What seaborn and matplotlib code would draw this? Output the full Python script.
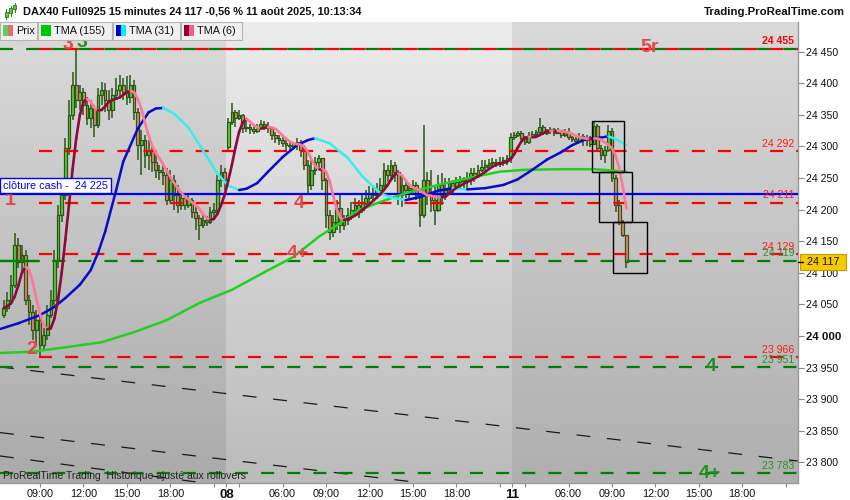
import numpy as np
import pandas as pd
import matplotlib
matplotlib.use("Agg")
import matplotlib.pyplot as plt
import seaborn as sns
from matplotlib.colors import LinearSegmentedColormap
from matplotlib.patches import Rectangle
from matplotlib.collections import LineCollection

# ---------------- data (15-minute bars) ----------------
open_ = [
    # Aug 7 (06:30 .. 21:45)
    24033, 24044, 24057, 24081, 24144, 24117, 24128, 24057, 24038, 24009,
    24025, 23986, 24002, 24033, 24057, 24120, 24192, 24223, 24298, 24350,
    24397, 24374, 24386, 24366, 24345, 24361, 24334, 24381, 24389, 24374,
    24358, 24381, 24389, 24397, 24386, 24378, 24397, 24355, 24302, 24310,
    24286, 24294, 24275, 24263, 24260, 24255, 24215, 24247, 24223, 24207,
    24218, 24207, 24215, 24196, 24187, 24176, 24184, 24180, 24196, 24199,
    24247, 24260,
    # Aug 8 (02:15 .. 21:45)
    24299, 24339, 24355, 24345, 24350, 24329, 24331, 24328, 24324, 24329,
    24336, 24332, 24329, 24318, 24313, 24310, 24305, 24302, 24301, 24304,
    24307, 24294, 24271, 24239, 24263, 24275, 24282, 24247, 24191, 24164,
    24180, 24203, 24176, 24184, 24192, 24199, 24207, 24199, 24210, 24218,
    24226, 24223, 24231, 24239, 24263, 24255, 24271, 24260, 24223, 24239,
    24231, 24234, 24239, 24223, 24192, 24247, 24223, 24215, 24199, 24239,
    24223, 24231, 24242, 24234, 24244, 24247, 24245, 24250, 24258, 24253,
    24263, 24267, 24271, 24274, 24275, 24272, 24275, 24279, 24282,
    # Aug 11 (02:15 .. 10:00)
    24315, 24318, 24321, 24313, 24307, 24317, 24320, 24323, 24331, 24321,
    24324, 24328, 24321, 24326, 24318, 24323, 24315, 24312, 24309, 24317,
    24310, 24313, 24304, 24332, 24298, 24286, 24294, 24324, 24250, 24207,
    24180, 24160,
]
high = [
    24057, 24069, 24096, 24163, 24155, 24144, 24136, 24065, 24049, 24041,
    24033, 24013, 24049, 24073, 24136, 24207, 24234, 24313, 24374, 24418,
    24453, 24397, 24392, 24378, 24374, 24366, 24392, 24402, 24400, 24389,
    24392, 24408, 24413, 24408, 24411, 24413, 24405, 24361, 24326, 24318,
    24310, 24302, 24286, 24271, 24271, 24266, 24263, 24255, 24239, 24228,
    24223, 24226, 24218, 24204, 24191, 24191, 24190, 24204, 24210, 24255,
    24271, 24266,
    24345, 24369, 24358, 24358, 24351, 24342, 24336, 24332, 24336, 24342,
    24340, 24339, 24329, 24323, 24318, 24315, 24310, 24307, 24307, 24313,
    24310, 24298, 24279, 24279, 24283, 24286, 24282, 24250, 24199, 24191,
    24215, 24223, 24191, 24202, 24212, 24218, 24215, 24223, 24231, 24237,
    24239, 24242, 24250, 24274, 24271, 24279, 24275, 24263, 24255, 24247,
    24242, 24247, 24244, 24226, 24334, 24260, 24263, 24236, 24255, 24258,
    24250, 24250, 24247, 24252, 24253, 24252, 24260, 24266, 24266, 24271,
    24279, 24279, 24280, 24282, 24280, 24283, 24283, 24286, 24321,
    24323, 24324, 24324, 24317, 24323, 24324, 24326, 24345, 24334, 24328,
    24331, 24329, 24329, 24326, 24328, 24329, 24317, 24315, 24321, 24320,
    24318, 24317, 24339, 24336, 24302, 24301, 24334, 24329, 24255, 24215,
    24183, 24160,
]
low = [
    24028, 24038, 24052, 24076, 24108, 24101, 24049, 24017, 23994, 23986,
    23967, 23978, 23994, 24028, 24049, 24108, 24180, 24215, 24286, 24342,
    24361, 24358, 24350, 24334, 24329, 24315, 24329, 24366, 24355, 24342,
    24345, 24374, 24377, 24374, 24366, 24369, 24342, 24279, 24255, 24266,
    24263, 24260, 24250, 24247, 24239, 24207, 24212, 24199, 24195, 24199,
    24199, 24202, 24187, 24168, 24152, 24171, 24174, 24177, 24187, 24195,
    24236, 24231,
    24294, 24334, 24331, 24342, 24321, 24323, 24320, 24320, 24321, 24326,
    24326, 24321, 24310, 24305, 24302, 24299, 24294, 24294, 24294, 24294,
    24283, 24263, 24223, 24231, 24255, 24266, 24231, 24171, 24152, 24157,
    24168, 24163, 24168, 24176, 24184, 24192, 24187, 24195, 24207, 24210,
    24212, 24218, 24223, 24234, 24244, 24247, 24244, 24207, 24204, 24218,
    24218, 24223, 24215, 24172, 24187, 24207, 24196, 24176, 24196, 24207,
    24215, 24223, 24223, 24231, 24231, 24234, 24231, 24239, 24244, 24250,
    24260, 24263, 24266, 24267, 24267, 24267, 24269, 24271, 24274,
    24310, 24315, 24310, 24302, 24304, 24315, 24317, 24318, 24318, 24318,
    24320, 24317, 24320, 24313, 24315, 24310, 24307, 24305, 24307, 24301,
    24301, 24299, 24302, 24291, 24279, 24274, 24291, 24244, 24196, 24176,
    24157, 24108,
]
close = [
    24044, 24057, 24081, 24144, 24117, 24128, 24057, 24038, 24009, 24025,
    23986, 24002, 24033, 24057, 24120, 24192, 24223, 24298, 24350, 24397,
    24374, 24386, 24366, 24345, 24361, 24334, 24381, 24389, 24374, 24358,
    24381, 24389, 24397, 24386, 24378, 24397, 24355, 24302, 24310, 24286,
    24294, 24275, 24263, 24260, 24255, 24215, 24247, 24223, 24207, 24218,
    24207, 24215, 24196, 24187, 24176, 24184, 24180, 24196, 24199, 24247,
    24260, 24247,
    24339, 24355, 24345, 24350, 24329, 24331, 24328, 24324, 24329, 24336,
    24332, 24329, 24318, 24313, 24310, 24305, 24302, 24301, 24304, 24307,
    24294, 24271, 24239, 24263, 24275, 24282, 24247, 24191, 24164, 24180,
    24203, 24176, 24184, 24192, 24199, 24207, 24199, 24210, 24218, 24226,
    24223, 24231, 24239, 24263, 24255, 24271, 24260, 24223, 24239, 24231,
    24234, 24239, 24223, 24192, 24247, 24223, 24215, 24199, 24239, 24223,
    24231, 24242, 24234, 24244, 24247, 24245, 24250, 24258, 24253, 24263,
    24267, 24271, 24274, 24275, 24272, 24275, 24279, 24282, 24315,
    24318, 24321, 24313, 24307, 24317, 24320, 24323, 24331, 24321, 24324,
    24328, 24321, 24326, 24318, 24323, 24315, 24312, 24309, 24317, 24310,
    24313, 24304, 24332, 24298, 24286, 24294, 24324, 24250, 24207, 24180,
    24160, 24117,
]

# TMA(31) and TMA(155) (bar index, value)
tma31_idx = [-1, 4, 10, 14, 17, 21, 24, 26, 28, 31, 33, 37, 40, 42, 44, 47, 51, 55, 59, 62,
             65, 67, 70, 73, 77, 81, 84, 86, 90, 95, 99, 104, 107, 111, 115, 120, 124, 128,
             133, 138, 142, 146, 150, 154, 157, 161, 165, 167, 169, 172]
tma31_val = [24011, 24020, 24033, 24046, 24060, 24081, 24104, 24131, 24165, 24230, 24276, 24328,
             24354, 24360, 24361, 24352, 24330, 24294, 24257, 24238, 24231, 24233, 24242, 24260,
             24283, 24302, 24310, 24313, 24305, 24282, 24253, 24226, 24219, 24215, 24220, 24230,
             24234, 24232, 24234, 24239, 24248, 24263, 24279, 24291, 24302, 24312, 24314, 24316,
             24312, 24302]
tma155_idx = [-1, 8, 17, 27, 36, 45, 54, 63, 73, 80, 87, 93, 98, 104, 111, 120, 126, 131, 137,
              144, 154, 163, 172]
tma155_val = [23973, 23975, 23982, 23990, 24006, 24025, 24052, 24073, 24104, 24125, 24157, 24179,
              24199, 24212, 24226, 24239, 24247, 24253, 24260, 24263, 24264, 24264, 24260]

# horizontal levels
top_level = 24455
red_levels = [24292, 24211, 24129, 23966]
green_levels = [24119, 23951, 23783]
cash_level = 24225
level_labels = [
    (24455, "24 455", "red", "bold"), (24292, "24 292", "red", "normal"),
    (24211, "24 211", "red", "normal"), (24129, "24 129", "red", "normal"),
    (24119, "24 119", "green", "normal"), (23966, "23 966", "red", "normal"),
    (23951, "23 951", "green", "normal"), (23783, "23 783", "green", "normal"),
]
# black dashed trend lines: two points each (bar index, price)
trend_lines = [((-1.05, 23951), (219.4, 23802)),
               ((-1.05, 23847), (113.0, 23769)),
               ((-1.05, 23810), (38.5, 23780))]
# rectangles drawn on Aug 11 (x0, y0, x1, y1)
boxes = [(162.4, 24259, 171.4, 24340), (164.5, 24180, 173.5, 24259), (168.4, 24099, 177.6, 24180)]
# wave labels (text, bar index, price, colour key)
wave_labels = [("1", 1.7, 24215, "red"), ("2", 7.8, 23979, "red"), ("3", 17.7, 24461, "red"),
               ("3", 21.6, 24464, "green"), ("4", 81.5, 24210, "red"), ("4+", 81.3, 24131, "red"),
               ("5r", 178.5, 24457, "red"), ("4", 195.5, 23951, "green"), ("4+", 195.1, 23783, "green")]

y_ticks = [23800, 23850, 23900, 23950, 24000, 24050, 24100, 24150, 24200, 24250, 24300, 24350, 24400, 24450]
x_tick_pos = [10, 22, 34, 46, 61.5, 77, 89, 101, 113, 125, 140.5, 156, 168, 180, 192, 204]
x_tick_lab = ["09:00", "12:00", "15:00", "18:00", "08", "06:00", "09:00", "12:00", "15:00", "18:00",
              "11", "06:00", "09:00", "12:00", "15:00", "18:00"]
x_minor = [58, 65, 137, 144, 216]
day_edges = [61.5, 140.5]
last_price = 24117
title = "DAX40 Full0925 15 minutes 24 117 -0,56 % 11 août 2025, 10:13:34"

# ---------------- style ----------------
sns.set_theme(style="white")
plt.rcParams['font.family'] = ['Liberation Sans', 'DejaVu Sans']
plt.rcParams['lines.scale_dashes'] = False

W, H = 850, 500
XMIN, XMAX = -1.05, 219.4
YMIN, YMAX = 23767.2, 24497.0
RED = "#ff0000"
GRN = "#008000"
LBL = {"red": "#e64545", "green": "#1f8f1f"}
LVL_C = {"red": "#ff1a1a", "green": "#2f8f2f"}
WICK = "#2a5716"
UPC = "#52d03a"
DNC = "#ef7f6e"

fig = plt.figure(figsize=(W / 100, H / 100), dpi=100, facecolor="white")
ax = fig.add_axes([0, 17 / H, 798 / W, 461 / H])


def fx(x):
    return x / W


def fy(y):
    return 1 - y / H


# background gradients per trading day
edges = [XMIN] + day_edges + [XMAX]
shades = [("#dbdbdb", "#aaaaaa"), ("#ececec", "#bbbbbb"), ("#d9d9d9", "#afafaf")]
grad = np.linspace(0, 1, 256).reshape(-1, 1)
for k in range(3):
    cmap = LinearSegmentedColormap.from_list("g%d" % k, [shades[k][1], shades[k][0]])
    ax.imshow(grad, cmap=cmap, origin="lower", aspect="auto",
              extent=(edges[k], edges[k + 1], YMIN, YMAX), zorder=0)

# horizontal levels
dash = (0, (9.4, 9.4))
red_start = 9.7
ax.plot([XMIN, XMAX], [top_level, top_level], color=GRN, lw=1.6, linestyle=dash, zorder=5)
ax.plot([red_start, XMAX], [top_level, top_level], color=RED, lw=1.6, linestyle=dash, zorder=5)
for lv in red_levels:
    ax.plot([red_start, XMAX], [lv, lv], color=RED, lw=1.6, linestyle=dash, zorder=5)
for lv in green_levels:
    ax.plot([XMIN, XMAX], [lv, lv], color=GRN, lw=1.6, linestyle=dash, zorder=5)
ax.plot([XMIN, red_start], [green_levels[0], green_levels[0]], color=GRN, lw=1.6, zorder=5)

for (p1, p2) in trend_lines:
    ax.axline(p1, p2, color="#1a1a1a", lw=0.9, linestyle=(0, (10, 12)), zorder=2)

# candles
bars = pd.DataFrame({"open": open_, "high": high, "low": low, "close": close})
bars["idx"] = np.arange(len(bars))
up = bars["close"] >= bars["open"]
body_lo = bars[["open", "close"]].min(axis=1)
body_h = (bars["close"] - bars["open"]).abs().clip(lower=1.5)
ax.vlines(bars["idx"], bars["low"], bars["high"], color=WICK, lw=1.1, zorder=3)
ax.bar(bars["idx"], body_h, bottom=body_lo, width=0.74, color=np.where(up, UPC, DNC),
       edgecolor=WICK, linewidth=0.9, zorder=3.5)

# cash close line
ax.axhline(cash_level, color="#0000ff", lw=1.6, zorder=6)


def colored_line(xs, ys, c_up, c_dn, lw, z):
    pts = np.column_stack([xs, ys])
    segs = np.stack([pts[:-1], pts[1:]], axis=1)
    cols = [c_up if s[1, 1] >= s[0, 1] else c_dn for s in segs]
    ax.add_collection(LineCollection(segs, colors=cols, linewidths=lw, zorder=z, capstyle="round"))


# TMA(155)
sns.lineplot(x=tma155_idx, y=tma155_val, color="#22d022", lw=1.8, ax=ax, zorder=7)
# TMA(31)
colored_line(tma31_idx, tma31_val, "#0a0acc", "#33f0f0", 1.8, 7.2)
# TMA(6) from closes
tma6 = pd.Series(close, dtype=float).rolling(3, min_periods=1).mean().rolling(4, min_periods=1).mean()
colored_line(bars["idx"].values, tma6.values, "#8c0a3c", "#ff7896", 1.9, 7.4)

# boxes
for (x0, y0, x1, y1) in boxes:
    ax.add_patch(Rectangle((x0, y0), x1 - x0, y1 - y0, fill=False, ec="black", lw=1.0, zorder=8))

# wave labels
for (t, xi, yv, ck) in wave_labels:
    ax.text(xi, yv, t, color=LBL[ck], fontsize=14, fontweight="bold", ha="center", va="center", zorder=9)

# level value labels
ytr = ax.get_yaxis_transform()
for (lv, t, ck, fw) in level_labels:
    ax.annotate(t, xy=(0.995, lv), xycoords=ytr, xytext=(0, 5.3), textcoords="offset points",
                ha="right", va="center", fontsize=7.6, color=LVL_C[ck] if fw == "normal" else RED,
                fontweight=fw, zorder=9)

# axes limits, ticks
ax.set_xlim(XMIN, XMAX)
ax.set_ylim(YMIN, YMAX)
ax.grid(False)
ax.yaxis.tick_right()
ax.set_yticks(y_ticks, [f"{v // 1000} {v % 1000:03d}" for v in y_ticks])
ax.set_xticks(x_tick_pos, x_tick_lab)
ax.set_xticks(x_minor, minor=True)
ax.tick_params(axis="y", which="major", direction="out", length=4, width=0.8, color="#888888",
               labelsize=7.6, pad=2, labelcolor="#111111", right=True, left=False)
ax.tick_params(axis="x", which="both", direction="out", length=3, width=0.8, color="#888888",
               labelsize=7.8, pad=1.5, labelcolor="#111111", bottom=True)
for lab in ax.get_yticklabels():
    if lab.get_text() == "24 000":
        lab.set_fontweight("bold")
        lab.set_fontsize(8.2)
for lab in ax.get_xticklabels():
    if lab.get_text() in ("08", "11"):
        lab.set_fontweight("bold")
        lab.set_fontsize(9.5)
ax.set_xlabel("")
ax.set_ylabel("")
for s in ("top", "left"):
    ax.spines[s].set_visible(False)
for s in ("right", "bottom"):
    ax.spines[s].set_color("#9a9a9a")
    ax.spines[s].set_linewidth(1.0)

# ---------------- figure-level decorations ----------------
def frect(x0, y0, x1, y1, **kw):
    fig.add_artist(Rectangle((fx(x0), fy(y1)), (x1 - x0) / W, (y1 - y0) / H,
                             transform=fig.transFigure, **kw))


# title bar
fig.text(fx(23), fy(12), title, fontsize=7.9, fontweight="bold", color="#111111",
         ha="left", va="center", zorder=30)
fig.text(fx(845), fy(12), "Trading.ProRealTime.com", fontsize=8.2, fontweight="bold",
         color="#111111", ha="right", va="center", zorder=30)
for (cx, t0, t1, b0, b1) in [(6, 9, 19, 12, 17), (10.5, 6, 16, 8, 13), (15, 3, 12, 5, 9)]:
    fig.add_artist(plt.Line2D([fx(cx), fx(cx)], [fy(t1), fy(t0)], transform=fig.transFigure,
                              color="#2c7a18", lw=0.8, zorder=30))
    frect(cx - 1.5, b0, cx + 1.5, b1, fc="#52d03a", ec="#2c7a18", lw=0.6, zorder=31)

# legend row
legend_items = [("Prix", ["#5ccf5c", "#e07070"], 0, 37),
                ("TMA (155)", ["#00c800"], 38, 112),
                ("TMA (31)", ["#0000c8", "#00f0ff"], 113, 180),
                ("TMA (6)", ["#900030", "#f0608a"], 181, 242)]
for (txt, cols, x0, x1) in legend_items:
    frect(x0, 22, x1, 40, fc="#f0f0f0", ec="#b4b4b4", lw=0.8, zorder=20)
    wq = 10 / len(cols)
    for k, c in enumerate(cols):
        frect(x0 + 3 + k * wq, 25.5, x0 + 3 + (k + 1) * wq, 35.5, fc=c, ec="none", zorder=21)
    fig.text(fx(x0 + 16), fy(31), txt, fontsize=7.8, color="#111111", ha="left", va="center", zorder=22)

# cash close label
frect(0, 178, 111, 193, fc="white", ec="#0000ff", lw=1.0, zorder=20)
fig.text(fx(3), fy(185.8), "clôture cash -  24 225", fontsize=7.8, color="#0000ff",
         ha="left", va="center", zorder=22)

# current price box
frect(800, 254, 846, 270, fc="#f8c800", ec="#c89a00", lw=0.8, zorder=20)
fig.text(fx(823), fy(262.2), f"{last_price // 1000} {last_price % 1000:03d}", fontsize=7.8,
         color="#111111", ha="center", va="center", zorder=22)
fig.add_artist(plt.Line2D([fx(798), fx(803)], [fy(262), fy(262)], transform=fig.transFigure,
                          color="black", lw=1.0, zorder=22))

# bottom-left note
fig.text(fx(3), fy(476), "ProRealTime Trading  Historique ajusté aux rollovers", fontsize=7.5,
         color="#222222", ha="left", va="center", zorder=22)

fig.savefig("out.png", dpi=100, facecolor="white")
